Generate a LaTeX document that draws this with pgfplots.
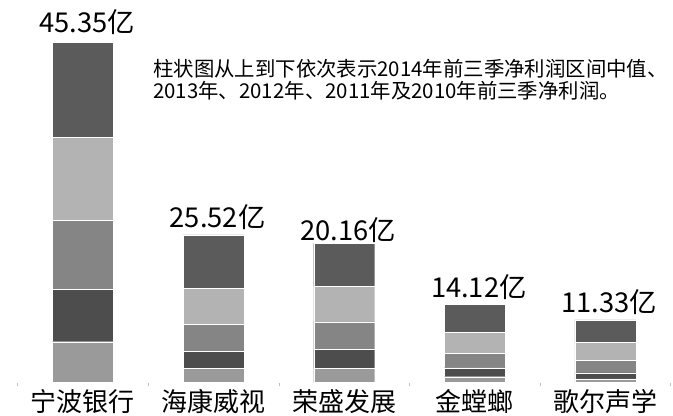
\documentclass[border=0pt]{standalone}
\usepackage{fontspec}
\setmainfont{Noto Sans CJK SC}
\usepackage{pgfplots}
\pgfplotsset{compat=1.18}

\definecolor{cA}{HTML}{5B5B5B}% 2014
\definecolor{cB}{HTML}{B3B3B3}% 2013
\definecolor{cC}{HTML}{858585}% 2012
\definecolor{cD}{HTML}{4D4D4D}% 2011
\definecolor{cE}{HTML}{9A9A9A}% 2010

\pgfplotsset{frame/.style={
 scale only axis,
 width=504.75pt, height=286.875pt,
 xmin=-0.6355, xmax=4.5176,
 ymin=0, ymax=51,
 clip=false,
}}

\begin{document}
\begin{tikzpicture}
\begin{axis}[
 frame,
 ybar stacked,
 bar width=45.75pt,
 axis y line=none,
 axis x line*=bottom,
 x axis line style={draw=none},
 xtick={0,...,4},
 xticklabels={宁波银行,海康威视,荣盛发展,金螳螂,歌尔声学},
 minor xtick={-0.5,0.5,...,4.5},
 major tick length=0pt,
 minor tick length=2.5pt,
 tick align=outside,
 every minor tick/.style={gray!50, line width=0.4pt},
 xticklabel style={font=\fontsize{19.5}{19.5}\selectfont, anchor=north, inner sep=0pt, yshift=-5pt},
]
% 2010
\addplot[fill=cE, draw=white, line width=0.3pt] coordinates {(0,5.44) (1,1.93) (2,1.89) (3,0.77) (4,0.47)};
% 2011
\addplot[fill=cD, draw=white, line width=0.3pt] coordinates {(0,6.99) (1,2.27) (2,2.53) (3,1.20) (4,0.80)};
% 2012
\addplot[fill=cC, draw=white, line width=0.3pt] coordinates {(0,9.15) (1,3.60) (2,3.68) (3,1.92) (4,1.69)};
% 2013
\addplot[fill=cB, draw=white, line width=0.3pt] coordinates {(0,11.12) (1,4.76) (2,4.76) (3,2.80) (4,2.35)};
% 2014
\addplot[fill=cA, draw=white, line width=0.3pt] coordinates {(0,12.65) (1,7.11) (2,5.69) (3,3.77) (4,3.03)};

\node[anchor=north west, align=left, inner sep=0pt, font=\fontsize{15.3}{16.5}\selectfont]
 at (rel axis cs:0.2273,0.845)
 {柱状图从上到下依次表示2014年前三季净利润区间中值、\\2013年、2012年、2011年及2010年前三季净利润。};
\end{axis}

% totals above the bars
\begin{axis}[frame, hide axis]
\addplot[draw=none, mark=none, nodes near coords, point meta=explicit symbolic,
 every node near coord/.append style={font=\fontsize{20.5}{20.5}\selectfont, text=black, anchor=base, inner sep=0pt, xshift=3pt}]
 coordinates {(0,46.6) [45.35亿] (1,20.73) [25.52亿] (2,19.0) [20.16亿] (3,11.4) [14.12亿] (4,9.27) [11.33亿]};
\end{axis}

\pgfresetboundingbox
\path[use as bounding box] ([yshift=-24.375pt]current axis.south west) rectangle (current axis.north east);
\end{tikzpicture}
\end{document}
